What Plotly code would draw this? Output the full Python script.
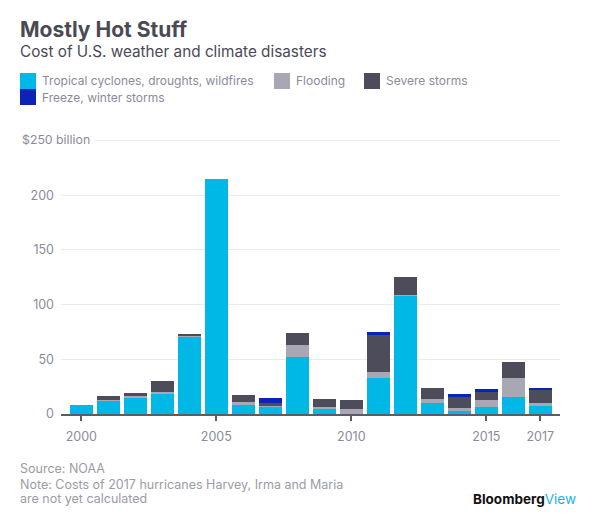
import plotly.graph_objects as go

years = list(range(2000, 2018))
tropical = [8, 12, 15.5, 19, 70.5, 214.5, 8, 6.5, 52, 5, 0, 32.5, 108, 10, 3, 6.5, 15.5, 7.5]
flooding = [0, 0.5, 1, 1, 1, 0, 3, 1, 11.5, 1, 4.5, 5.5, 0.5, 3.5, 2.5, 6, 17, 3]
severe = [0, 4, 2.5, 10, 1.5, 0, 6, 3, 10.5, 7.5, 8.5, 34.5, 17, 10.5, 10, 7.5, 15, 12]
freeze = [0, 0, 0, 0, 0, 0, 0, 4.5, 0, 0, 0, 2.5, 0, 0, 2.5, 2.5, 0, 1.5]

series_names = ["Tropical cyclones, droughts, wildfires", "Flooding", "Severe storms",
                "Freeze, winter storms"]
series_colors = ["#00b8e5", "#a8a8b4", "#4d4c5b", "#0a24b5"]

x_tickvals = [2000, 2005, 2010, 2015, 2017]
x_ticktext = ["2000", "2005", "2010", "2015", "2017"]
y_tickvals = [0, 50, 100, 150, 200, 250]
y_ticktext = ["0", "50", "100", "150", "200", ""]

FONT = "Inter"
DARK = "#4a4a55"
GREY = "#8b8b99"
FOOT = "#9b9ba6"

# page has an 8px body margin; figure is sized so the plot lands where the reference has it
OFF = 8
W, H = 600 - OFF, 527 - OFF
PL, PR, PT, PB = 61, 560, 135, 414          # plot area in page pixels
L, R, T, B = PL - OFF, W - (PR - OFF), PT - OFF, H - (PB - OFF)
PW, PH = PR - PL, PB - PT


def px(p):
    return (p - PL) / PW


def py(p):
    return (PB - p) / PH


fig = go.Figure()
for name, vals, col in zip(series_names, [tropical, flooding, severe, freeze], series_colors):
    fig.add_trace(go.Bar(x=years, y=vals, name=name, marker=dict(color=col, line=dict(width=0)),
                         width=0.85, showlegend=False))

annotations = []
shapes = []


def text(t, x, y, size, color, anchor="left", **kw):
    annotations.append(dict(text=t, x=px(x), y=py(y), xref="paper", yref="paper",
                            xanchor=anchor, yanchor="middle", showarrow=False,
                            font=dict(family=FONT, size=size, color=color), **kw))


text("<b>Mostly Hot Stuff</b>", 18, 30, 21, DARK)
text("Cost of U.S. weather and climate disasters", 18, 52, 15.3, DARK)

legend_items = [
    (0, 20, 73, 40, 81),
    (1, 274, 73, 294, 81),
    (2, 364, 73, 384, 81),
    (3, 20, 89, 40, 97),
]
for idx, sx, sy, tx, ty in legend_items:
    shapes.append(dict(type="rect", xref="paper", yref="paper", x0=px(sx), x1=px(sx + 16),
                       y0=py(sy), y1=py(sy + 16), fillcolor=series_colors[idx],
                       line=dict(width=0), layer="above"))
    text(series_names[idx], tx, ty, 12, GREY)

text("$250 billion", 18, 140, 12.3, GREY, bgcolor="white", borderpad=3)

text("Source: NOAA", 18, 468, 12.5, FOOT)
text("Note: Costs of 2017 hurricanes Harvey, Irma and Maria", 18, 484, 12.5, FOOT)
text("are not yet calculated", 18, 499, 12.5, FOOT)
text("<b>Bloomberg</b><span style='color:#1ab3e8'>View</span>", 578, 499, 13.5, "#111111",
     anchor="right")

fig.update_layout(
    width=W, height=H,
    margin=dict(l=L, r=R, t=T, b=B, pad=0),
    paper_bgcolor="white", plot_bgcolor="white",
    barmode="stack",
    font=dict(family=FONT, size=12.5, color=GREY),
    annotations=annotations, shapes=shapes,
    xaxis=dict(range=[1999.248, 2017.73], tickvals=x_tickvals, ticktext=x_ticktext,
               showline=True, linecolor="#5c5c68", linewidth=1.5,
               ticks="outside", ticklen=5, tickwidth=1.5, tickcolor="#5c5c68",
               showgrid=False, zeroline=False, ticklabelstandoff=5,
               tickfont=dict(family=FONT, size=12.5, color=GREY), fixedrange=True),
    yaxis=dict(range=[0, 255], tickvals=y_tickvals, ticktext=y_ticktext,
               showgrid=True, gridcolor="#ebebeb", gridwidth=1, zeroline=False,
               showline=False, ticks="", ticklabelstandoff=6,
               tickfont=dict(family=FONT, size=12.5, color=GREY), fixedrange=True),
)

fig.write_html("out.html")
